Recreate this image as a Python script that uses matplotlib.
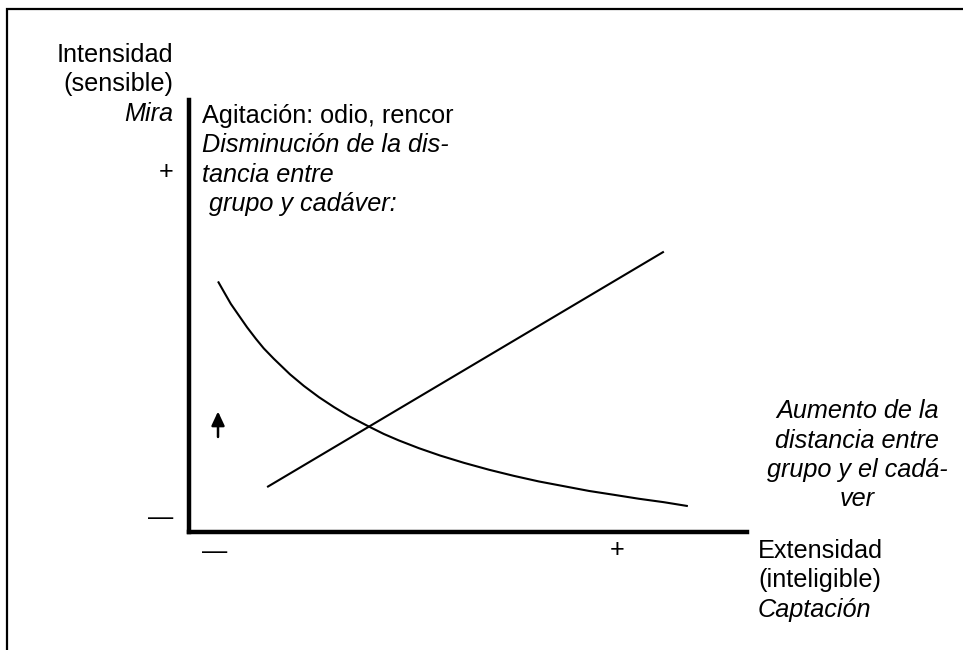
"""Intensity / extensity diagram: a falling curve and a rising line on bare axes."""
import matplotlib

matplotlib.use("Agg")
import matplotlib.pyplot as plt
from matplotlib.patches import Rectangle

# values in axis units (0-100 on both axes)
curve_x = [5.2, 6.3, 7.5, 9.0, 10.4, 12.0, 13.4, 15.2, 18.1, 20.6, 23.3, 26.0, 28.7, 32.1,
           34.9, 37.6, 41.2, 45.0, 49.3, 53.8, 58.2, 62.7, 67.2, 71.7, 76.2, 80.6, 85.1, 89.4]
curve_y = [58.0, 55.5, 52.8, 50.0, 47.4, 44.7, 42.5, 40.1, 36.5, 33.8, 31.2, 28.9, 26.8, 24.5,
           22.7, 21.2, 19.4, 17.7, 16.0, 14.4, 13.0, 11.7, 10.6, 9.5, 8.6, 7.7, 6.9, 6.0]
line_x = [14.0, 85.1]
line_y = [10.4, 64.9]
arrow_x = 5.2
arrow_y = [22.0, 27.9]

y_title = ["Intensidad", "(sensible)"]
y_title_italic = "Mira"
top_note = "Agitación: odio, rencor"
top_note_italic = ["Disminución de la dis-", "tancia entre", " grupo y cadáver:"]
right_note_italic = ["Aumento de la", "distancia entre", "grupo y el cadá-", "ver"]
x_title = ["Extensidad", "(inteligible)"]
x_title_italic = "Captación"

W, H = 963, 650
FONT = "Liberation Sans"
SIZE = 18.2
STEP = 29.5


def fx(px):
    return px / W


def fy(py):
    return 1 - py / H


def put(px, py, s, ha="left", italic=False):
    fig.text(fx(px), fy(py), s, ha=ha, va="center", fontsize=SIZE, family=FONT,
             style="italic" if italic else "normal")


fig = plt.figure(figsize=(W / 100, H / 100), dpi=100)

ax = fig.add_axes([fx(189), fy(532), fx(747) - fx(189), fy(100) - fy(532)])
ax.set_xlim(0, 100)
ax.set_ylim(0, 100)
ax.patch.set_alpha(0)
for side in ("top", "right"):
    ax.spines[side].set_visible(False)
for side in ("left", "bottom"):
    ax.spines[side].set_linewidth(3.2)
    ax.spines[side].set_capstyle("projecting")
ax.set_xticks([])
ax.set_yticks([])

ax.plot(curve_x, curve_y, color="black", lw=1.5, solid_capstyle="butt", solid_joinstyle="round")
ax.plot(line_x, line_y, color="black", lw=1.5, solid_capstyle="butt")
ax.annotate("", xy=(arrow_x, arrow_y[1]), xytext=(arrow_x, arrow_y[0]),
            arrowprops=dict(arrowstyle="-|>,head_length=0.6,head_width=0.28", color="black",
                            lw=1.8, mutation_scale=14, shrinkA=0, shrinkB=0))

# frame round the figure, cut off at right and bottom
fig.add_artist(Rectangle((fx(7), -0.5), 2, fy(9) + 0.5, transform=fig.transFigure,
                         fill=False, ec="black", lw=1.6, clip_on=False))

# y axis title, right aligned left of the axis
for i, s in enumerate(y_title):
    put(173, 55 + i * STEP, s, ha="right")
put(173, 55 + 2 * STEP, y_title_italic, ha="right", italic=True)
put(173, 172, "+", ha="right")
put(173, 518, "—", ha="right")

# note beside the y axis
put(202, 116, top_note)
for i, s in enumerate(top_note_italic):
    put(202, 116 + (i + 1) * STEP, s, italic=True)

# note on the right
for i, s in enumerate(right_note_italic):
    put(857, 411 + i * STEP, s, ha="center", italic=True)

# x axis title and ends
put(215, 552, "—", ha="center")
put(617, 550, "+", ha="center")
for i, s in enumerate(x_title):
    put(758, 551 + i * STEP, s)
put(758, 551 + 2 * STEP, x_title_italic, italic=True)

fig.savefig("out.png", dpi=100)
